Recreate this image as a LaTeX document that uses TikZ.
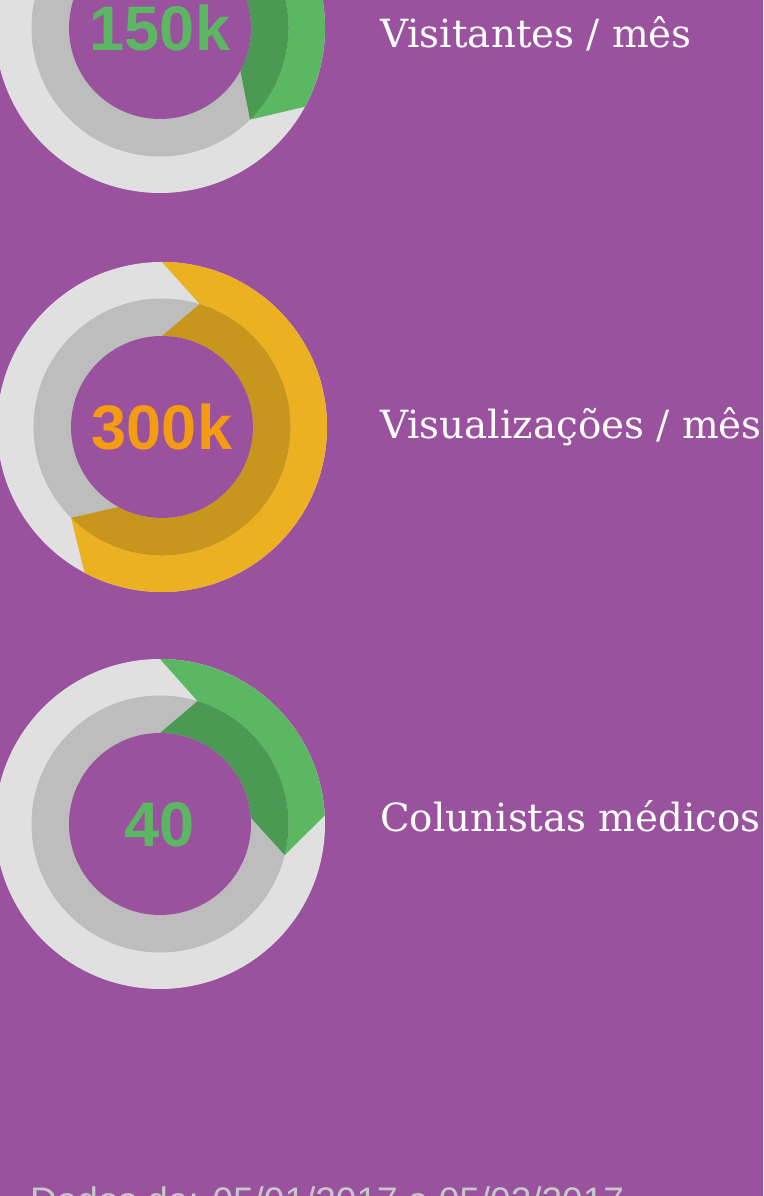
\documentclass[tikz,border=0pt]{standalone}
\usepackage{fontspec}
\setmainfont{DejaVu Serif}
\newfontfamily\numfont{Liberation Sans}
\usepackage{tikz}

\definecolor{fundo}{HTML}{9A529E}
\definecolor{anelclaro}{HTML}{E0E0E0}
\definecolor{anelcinza}{HTML}{BDBDBD}
\definecolor{verdeclaro}{HTML}{5BB762}
\definecolor{verdeescuro}{HTML}{4A9A54}
\definecolor{amareloclaro}{HTML}{EBB120}
\definecolor{amareloescuro}{HTML}{C8961C}
\definecolor{laranja}{HTML}{F39C12}
\definecolor{notacinza}{HTML}{C8C8C8}

\begin{document}
\begin{tikzpicture}[x=1pt, y=1pt,
  valor/.style={font=\numfont\bfseries\fontsize{63}{63}\selectfont, anchor=base, inner sep=0},
  rotulo/.style={font=\fontsize{38.8}{42}\selectfont, text=white, anchor=base west, inner sep=0}]

\useasboundingbox (0,0) rectangle (763,1196);
\clip (0,0) rectangle (763,1196);
\fill[fundo] (0,0) rectangle (763,1196);

% 150k
\coordinate (c1) at (160,1168);
\fill[anelclaro] (c1) circle (165);
\fill[anelcinza] (c1) circle (128.5);
\fill[verdeclaro, shift={(c1)}] (90:165) arc (90:-28.5:165) -- (-45.5:128.5) arc (-45.5:73:128.5) -- cycle;
\fill[verdeescuro, shift={(c1)}] (73:128.5) arc (73:-45.5:128.5) -- (-28:91) arc (-28:90:91) -- cycle;
\fill[fundo] (c1) circle (91);
\node[valor, text=verdeclaro] (v1) at ([yshift=-22.5pt]c1) {150k};
\node[rotulo] (l1) at (380,1148.3) {Visitantes / mês};

% 300k
\coordinate (c2) at (162,769);
\fill[anelclaro] (c2) circle (165);
\fill[anelcinza] (c2) circle (128.5);
\fill[amareloclaro, shift={(c2)}] (90:165) arc (90:-118:165) -- (-135:128.5) arc (-135:73:128.5) -- cycle;
\fill[amareloescuro, shift={(c2)}] (73:128.5) arc (73:-135:128.5) -- (-118.5:91) arc (-118.5:90:91) -- cycle;
\fill[fundo] (c2) circle (91);
\node[valor, text=laranja] (v2) at ([yshift=-23pt]c2) {300k};
\node[rotulo] (l2) at (380,757) {Visualizações / mês};

% 40
\coordinate (c3) at (160,372);
\fill[anelclaro] (c3) circle (165);
\fill[anelcinza] (c3) circle (128.5);
\fill[verdeclaro, shift={(c3)}] (90:165) arc (90:3:165) -- (-14:128.5) arc (-14:73:128.5) -- cycle;
\fill[verdeescuro, shift={(c3)}] (73:128.5) arc (73:-14:128.5) -- (4:91) arc (4:90:91) -- cycle;
\fill[fundo] (c3) circle (91);
\node[valor, text=verdeclaro] (v3) at ([yshift=-23pt]c3) {40};
\node[rotulo] (l3) at (380,364.3) {Colunistas médicos};

\node[font=\numfont\fontsize{37}{40}\selectfont, text=notacinza, anchor=base west, inner sep=0] (nota) at (30,-17.5) {Dados de: 05/01/2017 a 05/02/2017};

\end{tikzpicture}
\end{document}
